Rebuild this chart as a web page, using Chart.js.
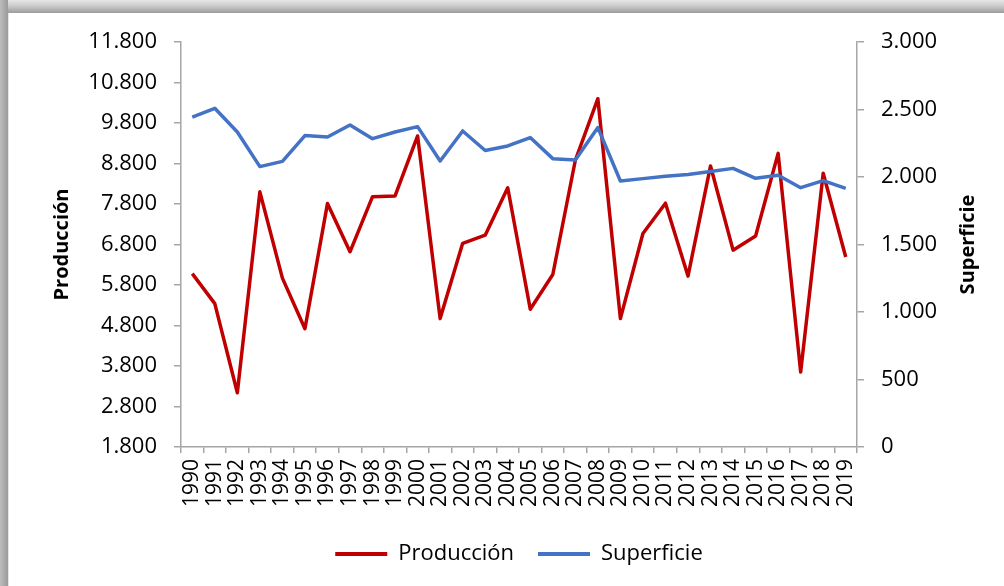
<!DOCTYPE html>
<html>
<head>
<meta charset="utf-8">
<script src="https://cdn.jsdelivr.net/npm/chart.js@4.4.1/dist/chart.umd.min.js"></script>
<style>
  html, body { margin: 0; padding: 0; background: #fff; }
  #wrap { position: relative; width: 1004px; height: 586px; background: #fff; overflow: hidden; }
  #shTop { position: absolute; left: 0; top: 0; width: 1004px; height: 13px; background: linear-gradient(#e6e6e6, #cfcfcf 40%, #9c9c9c); }
  #shLeft { position: absolute; left: 0; top: 0; width: 8px; height: 586px; background: linear-gradient(to right, #bdbdbd, #a4a4a4 70%, #9a9a9a); }
  #shLine { position: absolute; left: 8px; top: 13px; width: 1px; height: 573px; background: #e4e4e4; }
  canvas { position: absolute; left: 0; top: 0; }
</style>
</head>
<body>
<div id="wrap">
  <div id="shTop"></div>
  <div id="shLeft"></div>
  <div id="shLine"></div>
  <canvas id="c" width="1004" height="586"></canvas>
</div>
<script>
const years = ["1990","1991","1992","1993","1994","1995","1996","1997","1998","1999",
  "2000","2001","2002","2003","2004","2005","2006","2007","2008","2009",
  "2010","2011","2012","2013","2014","2015","2016","2017","2018","2019"];
const produccion = [6080, 5340, 3140, 8100, 5970, 4720, 7810, 6620, 7980, 8000,
  9480, 4970, 6830, 7030, 8200, 5200, 6060, 8880, 10400, 4970,
  7070, 7820, 6020, 8740, 6660, 7010, 9050, 3650, 8560, 6490];
const superficie = [2444, 2509, 2333, 2077, 2116, 2307, 2296, 2385, 2284, 2333,
  2373, 2119, 2341, 2196, 2230, 2292, 2136, 2126, 2366, 1970,
  1988, 2005, 2018, 2040, 2064, 1990, 2013, 1921, 1973, 1916];
const seriesNames = ["Producción", "Superficie"];
const leftTicks = [1800, 11800, 1000];   // min, max, step
const rightTicks = [0, 3000, 500];

const FONT = '"Open Sans", "Noto Sans", sans-serif';
const AXIS = '#a6a6a6';
function fmt(v) { return String(Math.round(v)).replace(/\B(?=(\d{3})+(?!\d))/g, '.'); }

const rightTitle = {
  id: 'rightTitle',
  afterDraw(chart) {
    const s = chart.scales.y1, ctx = chart.ctx;
    const cy = (chart.chartArea.top + chart.chartArea.bottom) / 2;
    ctx.save();
    ctx.font = 'bold 20px ' + FONT;
    ctx.fillStyle = '#000';
    ctx.textAlign = 'center';
    ctx.textBaseline = 'middle';
    ctx.translate(s.right - 36, cy);
    ctx.rotate(-Math.PI / 2);
    ctx.fillText(seriesNames[1], 0, 0);
    ctx.restore();
  }
};

new Chart(document.getElementById('c'), {
  type: 'line',
  data: {
    labels: years,
    datasets: [
      { label: seriesNames[0], data: produccion, yAxisID: 'y', borderColor: '#C00000', backgroundColor: '#C00000',
        borderWidth: 3.5, pointRadius: 0, tension: 0, borderJoinStyle: 'round', order: 1 },
      { label: seriesNames[1], data: superficie, yAxisID: 'y1', borderColor: '#4472C4', backgroundColor: '#4472C4',
        borderWidth: 3.5, pointRadius: 0, tension: 0, borderJoinStyle: 'round', order: 0 }
    ]
  },
  options: {
    responsive: false,
    devicePixelRatio: 1,
    animation: false,
    layout: { padding: { top: 42, left: 0, right: 0, bottom: 11 } },
    plugins: {
      tooltip: { enabled: false },
      legend: {
        position: 'bottom',
        fullSize: false,
        labels: {
          color: '#000',
          font: { family: FONT, size: 22, lineHeight: 1 },
          boxWidth: 52,
          boxHeight: 4,
          padding: 24,
          sort: (a, b) => a.datasetIndex - b.datasetIndex,
          generateLabels(chart) {
            return chart.data.datasets.map((d, i) => ({
              text: d.label, fillStyle: d.borderColor, strokeStyle: d.borderColor,
              lineWidth: 0, hidden: false, datasetIndex: i, fontColor: '#000'
            }));
          }
        }
      }
    },
    scales: {
      x: {
        type: 'category',
        offset: true,
        grid: { display: true, offset: true, drawOnChartArea: false, drawTicks: true, tickLength: 6, color: AXIS, lineWidth: 1.5 },
        border: { display: true, color: AXIS, width: 1.5 },
        ticks: { autoSkip: false, minRotation: 90, maxRotation: 90, padding: 6, color: '#000', font: { family: FONT, size: 21 } },
        afterFit(s) { s.height = 72; }
      },
      y: {
        position: 'left',
        min: leftTicks[0], max: leftTicks[1],
        grid: { display: true, drawOnChartArea: false, drawTicks: true, tickLength: 7, color: AXIS, lineWidth: 1.5 },
        border: { display: true, color: AXIS, width: 1.5 },
        ticks: { stepSize: leftTicks[2], padding: 17, color: '#000', font: { family: FONT, size: 22 }, callback: v => fmt(v) },
        title: { display: true, text: seriesNames[0], color: '#000', font: { family: FONT, size: 20, weight: 'bold', lineHeight: 1.2 }, padding: { top: 50, bottom: 0 } },
        afterFit(s) { s.width = 181; }
      },
      y1: {
        position: 'right',
        min: rightTicks[0], max: rightTicks[1],
        grid: { display: true, drawOnChartArea: false, drawTicks: true, tickLength: 7, color: AXIS, lineWidth: 1.5 },
        border: { display: true, color: AXIS, width: 1.5 },
        ticks: { stepSize: rightTicks[2], padding: 17, color: '#000', font: { family: FONT, size: 22 }, callback: v => fmt(v) },
        afterFit(s) { s.width = 147; }
      }
    }
  },
  plugins: [rightTitle]
});
</script>
</body>
</html>
